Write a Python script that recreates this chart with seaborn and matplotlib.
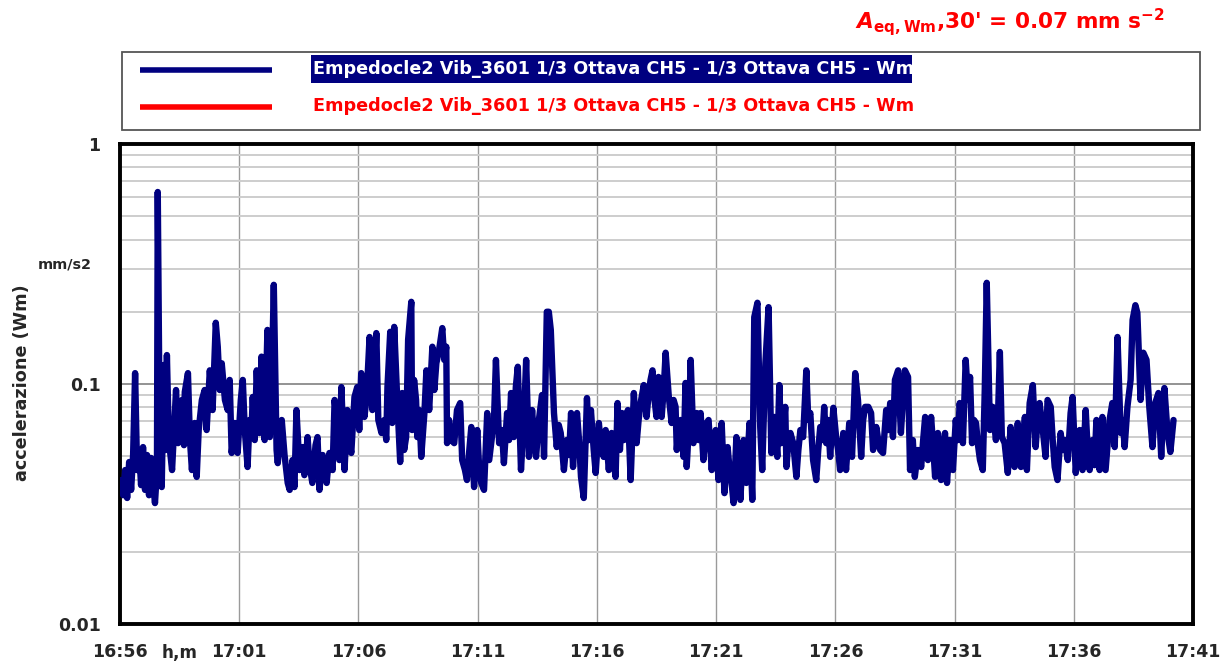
import numpy as np
import pandas as pd
import matplotlib
matplotlib.use("Agg")
import matplotlib.pyplot as plt
import seaborn as sns
from matplotlib.patches import Rectangle
from matplotlib.ticker import LogLocator, NullFormatter, FixedLocator

# ---------------- data ----------------
x_tick_labels = ["16:56", "17:01", "17:06", "17:11", "17:16", "17:21",
                 "17:26", "17:31", "17:36", "17:41"]
y_tick_values = [0.01, 0.1, 1]
y_tick_labels = ["0.01", "0.1", "1"]
series_name = "Empedocle2 Vib_3601 1/3 Ottava CH5 - 1/3 Ottava CH5 - Wm"
summary_text = r"$A_{\mathrm{eq,Wm}}$,30' = 0.07 mm s$^{-2}$"
y_label = "accelerazione (Wm)"
y_unit = "mm/s2"
x_unit = "h,m"

# elapsed seconds from 16:56:00
elapsed_s = [
    3, 8, 13, 18, 23, 28, 33, 38, 43, 48,
    53, 58, 63, 68, 73, 78, 83, 88, 93, 95,
    100, 105, 110, 115, 118, 123, 131, 136, 141, 146,
    151, 156, 161, 163, 171, 176, 181, 188, 193, 198,
    206, 213, 218, 226, 233, 241, 246, 251, 256, 264,
    271, 276, 281, 289, 296, 304, 309, 314, 321, 326,
    331, 334, 339, 344, 351, 356, 364, 371, 377, 382,
    387, 394, 397, 402, 407, 414, 422, 427, 434, 439,
    444, 452, 459, 464, 472, 477, 484, 492, 497, 502,
    510, 515, 520, 527, 535, 540, 547, 552, 557, 565,
    572, 577, 582, 590, 597, 602, 607, 615, 620, 628,
    635, 640, 645, 650, 658,
    665, 670, 673, 680, 685, 690, 698, 705, 710, 715,
    720, 725, 733, 735, 740, 745, 748, 753, 758, 766,
    771, 778, 786, 791, 796, 803, 811, 816, 821, 823,
    828, 833, 841, 848, 856, 861, 868, 873, 879, 884,
    891, 899, 904, 909, 916, 924, 929, 934, 941, 946,
    954, 961, 966, 974, 979, 984, 991, 996, 1001, 1009,
    1017, 1022, 1029, 1037, 1042, 1047, 1054, 1062, 1067, 1074,
    1079, 1084, 1092, 1099, 1104, 1109, 1117, 1124, 1130, 1135,
    1140, 1145, 1150, 1155, 1160, 1167, 1175, 1180, 1185, 1192,
    1197, 1205, 1210, 1217, 1222, 1230, 1237, 1242, 1247, 1252,
    1258, 1263, 1268, 1273, 1278, 1285, 1293, 1300, 1305, 1310,
    1318, 1325, 1330, 1335, 1340, 1345, 1350, 1355, 1363, 1368,
    1373, 1381, 1388, 1393, 1398, 1401, 1406, 1411, 1418, 1423,
    1426, 1431, 1436, 1443, 1451, 1456, 1461, 1468, 1476, 1481,
    1489, 1494, 1499, 1506, 1514, 1521, 1529, 1534, 1539, 1544,
    1551, 1556, 1561, 1569, 1576, 1584, 1591, 1596, 1604, 1611,
    1616, 1624, 1632, 1639, 1647, 1654, 1659, 1664, 1669, 1674,
    1677, 1682, 1687, 1694, 1702, 1707, 1712, 1719, 1727, 1732,
    1737, 1744, 1752, 1757, 1762, 1767, 1772, 1777, 1782, 1787,
    1795, 1802, 1807, 1812, 1820, 1827, 1835, 1842, 1850, 1857,
    1865, 1870, 1875, 1883, 1890, 1895,
    1903, 1908, 1913, 1920, 1928, 1933, 1938, 1945, 1950, 1958,
    1965, 1970, 1975, 1983, 1988, 1995, 2000, 2008, 2016, 2021,
    2026, 2033, 2041, 2046, 2051, 2058, 2066, 2071, 2076, 2081,
    2088, 2096, 2103, 2108, 2113, 2121, 2128, 2134, 2139, 2144,
    2149, 2154, 2159, 2164, 2171, 2176, 2181, 2189, 2196, 2204,
    2209, 2214, 2219, 2226, 2234, 2241, 2246, 2251, 2259, 2267,
    2272, 2277, 2282, 2289, 2297, 2304, 2309, 2314, 2322, 2329,
    2334,
    2342, 2347, 2352, 2359, 2367, 2372, 2377, 2385, 2392, 2397,
    2405, 2410, 2415, 2422, 2430, 2435, 2440, 2447, 2452, 2457,
    2465, 2472, 2480, 2485, 2490, 2497, 2503, 2510, 2518, 2523,
    2528, 2535, 2543, 2548, 2555, 2560, 2568, 2575, 2583, 2590,
    2598, 2605, 2613, 2620, 2628, 2636, 2643, 2651,
]

# acceleration (mm/s2)
accel = [
    0.0398, 0.0344, 0.0438, 0.0335, 0.0473, 0.0362, 0.0506, 0.111, 0.0438, 0.0531,
    0.0379, 0.0546, 0.0362, 0.0506, 0.0344, 0.0492, 0.0398, 0.0319, 0.0438, 0.631,
    0.0584, 0.0372, 0.120, 0.0531, 0.132, 0.0584, 0.0438, 0.0643, 0.0944, 0.0567,
    0.0779, 0.0858, 0.0556, 0.0926, 0.111, 0.0584, 0.0438, 0.0688, 0.0410, 0.0643,
    0.0858, 0.0944, 0.0643, 0.114, 0.0779, 0.180, 0.143, 0.0944, 0.122, 0.0858,
    0.0779, 0.104, 0.0516, 0.0688, 0.0516, 0.0858, 0.104, 0.0643, 0.0451, 0.0708,
    0.0643, 0.0883, 0.0584, 0.114, 0.0625, 0.130, 0.0584, 0.168, 0.0601, 0.104,
    0.259, 0.0531, 0.0468, 0.0601, 0.0708, 0.0506, 0.0387, 0.0362, 0.0482, 0.0372,
    0.0779, 0.0438, 0.0546, 0.0417, 0.0601, 0.0459, 0.0387, 0.0556, 0.0601, 0.0362,
    0.0506, 0.0438, 0.0387, 0.0516, 0.0438, 0.0858, 0.0675, 0.0482, 0.0971, 0.0438,
    0.0779, 0.0584, 0.0516, 0.0883, 0.0971, 0.0643, 0.111, 0.0729, 0.0858, 0.157,
    0.0779, 0.104, 0.163, 0.0708, 0.0625,
    0.0708, 0.0584, 0.0971, 0.165, 0.0688, 0.173, 0.0833, 0.0473, 0.0917, 0.0531,
    0.0601, 0.153, 0.220, 0.0643, 0.104, 0.0858, 0.0601, 0.0779, 0.0497, 0.0757,
    0.114, 0.0779, 0.143, 0.0944, 0.122, 0.139, 0.171, 0.126, 0.143, 0.0567,
    0.0708, 0.0584, 0.0567, 0.0779, 0.0833, 0.0482, 0.0438, 0.0398, 0.0531, 0.0662,
    0.0372, 0.0643, 0.0438, 0.0387, 0.0362, 0.0757, 0.0482, 0.0567, 0.0708, 0.126,
    0.0567, 0.0643, 0.0468, 0.0757, 0.0584, 0.0917, 0.0601, 0.0971, 0.118, 0.0438,
    0.0757, 0.126, 0.0497, 0.0779, 0.0584, 0.0497, 0.0708, 0.0900, 0.0497, 0.200,
    0.200, 0.168, 0.0757, 0.0546, 0.0675, 0.0625, 0.0438, 0.0584, 0.0506, 0.0757,
    0.0451, 0.0643, 0.0757, 0.0584, 0.0410, 0.0335, 0.0874, 0.0584, 0.0779, 0.0531,
    0.0426, 0.0688, 0.0556, 0.0497, 0.0643, 0.0438, 0.0625, 0.0482, 0.0410, 0.0833,
    0.0531, 0.0757, 0.0584, 0.0729, 0.0779, 0.0398, 0.0917, 0.0567, 0.0708, 0.0833,
    0.0990, 0.0729, 0.0900, 0.104, 0.114, 0.0858, 0.0729, 0.107, 0.0729, 0.0944,
    0.135, 0.0883, 0.0688, 0.0858, 0.0803, 0.0531, 0.0675, 0.0708, 0.0497, 0.101,
    0.0451, 0.0643, 0.126, 0.0567, 0.0757, 0.0584, 0.0757, 0.0482, 0.0688, 0.0708,
    0.0438, 0.0584, 0.0643, 0.0398, 0.0688, 0.0351, 0.0546, 0.0438, 0.0387, 0.0319,
    0.0601, 0.0438, 0.0329, 0.0584, 0.0387, 0.0688, 0.0329, 0.190, 0.218, 0.0662,
    0.0438, 0.122, 0.209, 0.0516, 0.0729, 0.0497, 0.0990, 0.0567, 0.0643, 0.0803,
    0.0451, 0.0584, 0.0625, 0.0567, 0.0410, 0.0531, 0.0643, 0.0601, 0.114, 0.0708,
    0.0757, 0.0482, 0.0398, 0.0531, 0.0662, 0.0584, 0.0803, 0.0567, 0.0708, 0.0497,
    0.0796, 0.0601, 0.0531, 0.0438, 0.0625, 0.0438, 0.0688, 0.0497, 0.111, 0.0858,
    0.0497, 0.0708, 0.0803, 0.0803, 0.0757, 0.0531,
    0.0662, 0.0584, 0.0531, 0.0516, 0.0779, 0.0643, 0.0833, 0.0601, 0.104, 0.114,
    0.0625, 0.0858, 0.114, 0.107, 0.0438, 0.0584, 0.0410, 0.0531, 0.0451, 0.0584,
    0.0729, 0.0482, 0.0729, 0.0556, 0.0410, 0.0625, 0.0398, 0.0531, 0.0625, 0.0387,
    0.0584, 0.0438, 0.0708, 0.0584, 0.0833, 0.0567, 0.126, 0.0858, 0.107, 0.0567,
    0.0708, 0.0688, 0.0556, 0.0482, 0.0438, 0.0944, 0.264, 0.0643, 0.0803, 0.0584,
    0.0708, 0.136, 0.0601, 0.0567, 0.0426, 0.0662, 0.0531, 0.0451, 0.0688, 0.0451,
    0.0584, 0.0729, 0.0438, 0.0833, 0.0990, 0.0546, 0.0708, 0.0833, 0.0643, 0.0497,
    0.0858,
    0.0803, 0.0584, 0.0451, 0.0398, 0.0625, 0.0531, 0.0584, 0.0482, 0.0757, 0.0883,
    0.0426, 0.0556, 0.0643, 0.0438, 0.0779, 0.0531, 0.0438, 0.0584, 0.0459, 0.0708,
    0.0438, 0.0729, 0.0438, 0.0556, 0.0708, 0.0833, 0.0546, 0.157, 0.0625, 0.0708,
    0.0546, 0.0803, 0.104, 0.185, 0.213, 0.198, 0.0858, 0.135, 0.126, 0.0803,
    0.0546, 0.0833, 0.0917, 0.0497, 0.0962, 0.0625, 0.0521, 0.0708,
]

# ---------------- style ----------------
sns.set_style("white")
plt.rcParams["font.family"] = ["DejaVu Sans"]
plt.rcParams["font.weight"] = "bold"
plt.rcParams["mathtext.fontset"] = "custom"
plt.rcParams["mathtext.rm"] = "DejaVu Sans:bold"
plt.rcParams["mathtext.it"] = "DejaVu Sans:italic:bold"
plt.rcParams["mathtext.bf"] = "DejaVu Sans:bold"

NAVY = "#000080"
RED = "#ff0000"
W, H = 1228, 667
fig = plt.figure(figsize=(W / 100, H / 100), dpi=100)
fig.patch.set_facecolor("white")

ax = fig.add_axes([120 / W, 1 - 624 / H, (1193 - 120) / W, (624 - 144) / H])
df = pd.DataFrame({"minutes": np.asarray(elapsed_s) / 60.0, "acc": accel})
sns.lineplot(data=df, x="minutes", y="acc", ax=ax, color=NAVY, linewidth=4.6,
             estimator=None, sort=False, legend=False)
for ln in ax.lines:
    ln.set_solid_joinstyle("round")
    ln.set_solid_capstyle("round")
    ln.set_zorder(3)

ax.set_yscale("log")
ax.set_ylim(y_tick_values[0], y_tick_values[-1])
ax.set_xlim(0, 45)
ax.set_xlabel("")
ax.set_ylabel("")

ax.set_xticks(np.arange(0, 46, 5))
ax.set_xticklabels(x_tick_labels)
ax.xaxis.set_minor_locator(FixedLocator(np.arange(0, 46, 1)))
ax.set_yticks(y_tick_values)
ax.set_yticklabels(y_tick_labels)
ax.yaxis.set_minor_locator(LogLocator(base=10, subs=np.arange(2, 10)))
ax.yaxis.set_minor_formatter(NullFormatter())

ax.set_axisbelow(True)
ax.grid(False)
ax.xaxis.grid(True, which="major", color="#9a9a9a", linewidth=1.0)
ax.yaxis.grid(True, which="minor", color="#cdcdcd", linewidth=1.4)
ax.yaxis.grid(True, which="major", color="#808080", linewidth=1.2)

ax.tick_params(axis="x", which="major", direction="out", length=11, width=1.1,
               color="#444444", labelsize=12.5, pad=3)
ax.tick_params(axis="x", which="minor", direction="out", length=6, width=1.0,
               color="#444444")
ax.tick_params(axis="y", which="major", direction="out", length=9, width=1.1,
               color="#444444", labelsize=12.5, pad=5)
ax.tick_params(axis="y", which="minor", length=0)
for lab in ax.get_xticklabels() + ax.get_yticklabels():
    lab.set_fontweight("bold")
for sp in ax.spines.values():
    sp.set_visible(True)
    sp.set_color("black")
    sp.set_linewidth(2.8)

# ---------------- overlay (pixel coordinates) ----------------
ov = fig.add_axes([0, 0, 1, 1], zorder=5)
ov.set_xlim(0, W)
ov.set_ylim(H, 0)
ov.axis("off")

ov.add_patch(Rectangle((122, 52), 1078, 78, facecolor="white",
                       edgecolor="#555555", linewidth=1.3))
ov.plot([140, 272], [70, 70], color=NAVY, linewidth=4.0, solid_capstyle="butt")
ov.plot([140, 272], [107, 107], color=RED, linewidth=4.0, solid_capstyle="butt")
ov.add_patch(Rectangle((311, 55), 601, 28, facecolor=NAVY, edgecolor="none"))
t1 = ov.text(313, 69, series_name, color="white", fontweight="bold",
             ha="left", va="center", fontsize=13)
t2 = ov.text(313, 106, series_name, color=RED, fontweight="bold",
             ha="left", va="center", fontsize=13)
tt = ov.text(1010, 22, summary_text, color=RED, fontweight="bold",
             ha="center", va="center", fontsize=18)
ty = ov.text(22, 383, y_label, rotation=90, fontweight="bold",
             ha="center", va="center", fontsize=13)
tu = ov.text(65, 265, y_unit, fontweight="bold", ha="center", va="center",
             fontsize=12)
th = ov.text(180, 653, x_unit, fontweight="bold", ha="center", va="center",
             fontsize=12.5)

fig.canvas.draw()
rend = fig.canvas.get_renderer()


def fit(t, target, dim="w"):
    bb = t.get_window_extent(rend)
    cur = bb.width if dim == "w" else bb.height
    t.set_fontsize(t.get_fontsize() * target / cur)


fit(t1, 597)
fit(t2, 597)
fit(tt, 310)
fit(ty, 195, "h")
fit(tu, 54)
fit(th, 36)

fig.savefig("out.png", dpi=100, facecolor="white")
